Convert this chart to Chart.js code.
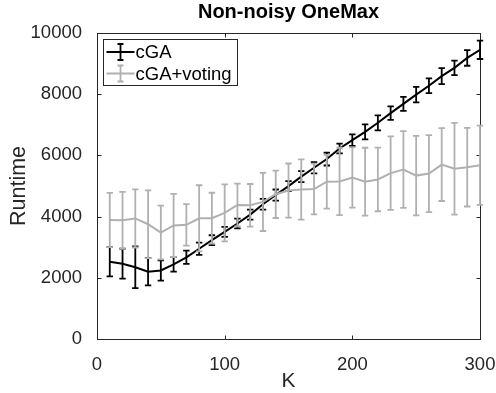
<!DOCTYPE html>
<html>
<head>
<meta charset="utf-8">
<script src="https://cdn.jsdelivr.net/npm/chart.js@4.4.1/dist/chart.umd.min.js"></script>
<style>
  html, body { margin: 0; padding: 0; background: #fff; }
  #wrap { width: 496px; height: 393px; }
</style>
</head>
<body>
<div id="wrap"><canvas id="runtime"></canvas></div>
<script>
// problem size K and mean runtime with its spread, per algorithm
var K = [10, 20, 30, 40, 50, 60, 70, 80, 90, 100, 110, 120, 130, 140, 150,
         160, 170, 180, 190, 200, 210, 220, 230, 240, 250, 260, 270, 280, 290, 300];

var cgaMean = [2525, 2460, 2345, 2200, 2240, 2440, 2670, 2950, 3230, 3500,
               3775, 4065, 4405, 4705, 4995, 5305, 5595, 5880, 6225, 6500,
               6770, 7065, 7380, 7685, 7985, 8275, 8590, 8860, 9185, 9450];
var cgaErr = [480, 490, 680, 450, 330, 235, 215, 200, 160, 165,
              160, 165, 175, 180, 165, 180, 185, 210, 160, 190,
              245, 245, 220, 230, 255, 240, 260, 235, 255, 300];

var votingMean = [3890, 3880, 3940, 3750, 3480, 3710, 3730, 3945, 3950, 4120,
                  4380, 4370, 4480, 4730, 4850, 4885, 4900, 5140, 5150, 5280,
                  5140, 5215, 5420, 5540, 5340, 5405, 5700, 5565, 5615, 5680];
var votingErr = [885, 930, 950, 1110, 880, 1030, 680, 1080, 830, 930,
                 700, 695, 950, 775, 885, 985, 830, 880, 1100, 985,
                 1110, 1040, 1200, 1256, 1300, 1257, 1190, 1500, 1285, 1295];

var xTicks = [0, 100, 200, 300];
var yTicks = [0, 2000, 4000, 6000, 8000, 10000];

var AXIS = '#262626';
var GREY = '#b0b0b0';

Chart.defaults.font.family = '"Liberation Sans", Arial, Helvetica, sans-serif';
Chart.defaults.color = AXIS;

function points(mean) {
  return K.map(function (k, i) { return { x: k, y: mean[i] }; });
}

// vertical bars with caps, drawn right after each dataset so the grey one sits on top
var errorBars = {
  id: 'errorBars',
  afterDatasetDraw: function (chart, args) {
    var ds = chart.data.datasets[args.index];
    if (!ds.errors) return;
    var ctx = chart.ctx, x = chart.scales.x, y = chart.scales.y;
    ctx.save();
    ctx.strokeStyle = ds.borderColor;
    ctx.lineWidth = 1.8;
    ds.data.forEach(function (p, i) {
      var px = x.getPixelForValue(p.x);
      var top = y.getPixelForValue(p.y + ds.errors[i]);
      var bot = y.getPixelForValue(p.y - ds.errors[i]);
      ctx.beginPath();
      ctx.moveTo(px, top); ctx.lineTo(px, bot);
      ctx.moveTo(px - 3.2, top); ctx.lineTo(px + 3.2, top);
      ctx.moveTo(px - 3.2, bot); ctx.lineTo(px + 3.2, bot);
      ctx.stroke();
    });
    ctx.restore();
  }
};

// box round the plot with inward ticks on all four sides
var axesBox = {
  id: 'axesBox',
  beforeDatasetsDraw: function (chart) {
    var ctx = chart.ctx, a = chart.chartArea, x = chart.scales.x, y = chart.scales.y;
    var l = Math.round(a.left) + 0.5, r = Math.round(a.right) + 0.5;
    var t = Math.round(a.top) + 0.5, b = Math.round(a.bottom) + 0.5;
    ctx.save();
    ctx.strokeStyle = AXIS;
    ctx.lineWidth = 1;
    ctx.strokeRect(l, t, r - l, b - t);
    ctx.beginPath();
    xTicks.forEach(function (v) {
      var px = Math.round(x.getPixelForValue(v)) + 0.5;
      ctx.moveTo(px, b); ctx.lineTo(px, b - 4);
      ctx.moveTo(px, t); ctx.lineTo(px, t + 4);
    });
    yTicks.forEach(function (v) {
      var py = Math.round(y.getPixelForValue(v)) + 0.5;
      ctx.moveTo(l, py); ctx.lineTo(l + 4, py);
      ctx.moveTo(r, py); ctx.lineTo(r - 4, py);
    });
    ctx.stroke();
    ctx.restore();
  }
};

// legend in the upper left corner, each entry a line with an error bar
var boxLegend = {
  id: 'boxLegend',
  afterDraw: function (chart) {
    var ctx = chart.ctx, a = chart.chartArea;
    var l = Math.round(a.left) + 6.5, t = Math.round(a.top) + 6.5;
    ctx.save();
    ctx.fillStyle = '#fff';
    ctx.strokeStyle = AXIS;
    ctx.lineWidth = 1;
    ctx.fillRect(l, t, 134, 46);
    ctx.strokeRect(l, t, 134, 46);
    ctx.font = '18.5px "Liberation Sans", Arial, sans-serif';
    ctx.textBaseline = 'middle';
    chart.data.datasets.forEach(function (ds, i) {
      var cy = t + 12.5 + i * 21.5;
      ctx.strokeStyle = ds.borderColor;
      ctx.lineWidth = 1.8;
      ctx.beginPath();
      ctx.moveTo(l + 3, cy); ctx.lineTo(l + 31, cy);
      ctx.moveTo(l + 17, cy - 8); ctx.lineTo(l + 17, cy + 8);
      ctx.moveTo(l + 14, cy - 8); ctx.lineTo(l + 20, cy - 8);
      ctx.moveTo(l + 14, cy + 8); ctx.lineTo(l + 20, cy + 8);
      ctx.stroke();
      ctx.fillStyle = '#000';
      ctx.fillText(ds.label, l + 32, cy + 1);
    });
    ctx.restore();
  }
};

new Chart(document.getElementById('runtime'), {
  type: 'line',
  data: {
    datasets: [
      {
        label: 'cGA',
        data: points(cgaMean),
        errors: cgaErr,
        borderColor: '#000',
        borderWidth: 2,
        pointRadius: 0,
        order: 1
      },
      {
        label: 'cGA+voting',
        data: points(votingMean),
        errors: votingErr,
        borderColor: GREY,
        borderWidth: 2,
        pointRadius: 0,
        order: 0
      }
    ]
  },
  options: {
    responsive: true,
    maintainAspectRatio: false,
    animation: false,
    layout: { padding: 0 },
    plugins: {
      legend: { display: false },
      tooltip: { enabled: false },
      title: {
        display: true,
        text: 'Non-noisy OneMax',
        fullSize: false,
        color: '#000',
        font: { size: 20, weight: 'bold', lineHeight: 1.2 },
        padding: { top: 0.5, bottom: 8.5 }
      }
    },
    scales: {
      x: {
        type: 'linear',
        min: 0,
        max: 300,
        grid: { display: false },
        border: { display: false },
        ticks: {
          stepSize: 100,
          padding: 7,
          font: { size: 18.5 },
          color: AXIS,
          maxRotation: 0,
          callback: function (v) { return String(v); }
        },
        title: {
          display: true,
          text: 'K',
          color: AXIS,
          font: { size: 21, lineHeight: 1 },
          padding: { top: 0, bottom: 1 }
        },
        afterFit: function (s) {
          s.height = 54;
          s.paddingLeft = 0;
          s.paddingRight = 16;
        }
      },
      y: {
        min: 0,
        max: 10000,
        grid: { display: false },
        border: { display: false },
        ticks: {
          stepSize: 2000,
          padding: 7,
          font: { size: 18.5 },
          color: AXIS,
          callback: function (v) { return String(v); }
        },
        title: {
          display: true,
          text: 'Runtime',
          color: AXIS,
          font: { size: 21.5, lineHeight: 1 },
          padding: { top: 8, bottom: 0 }
        },
        afterFit: function (s) { s.width = 97; }
      }
    }
  },
  plugins: [errorBars, axesBox, boxLegend]
});
</script>
</body>
</html>
